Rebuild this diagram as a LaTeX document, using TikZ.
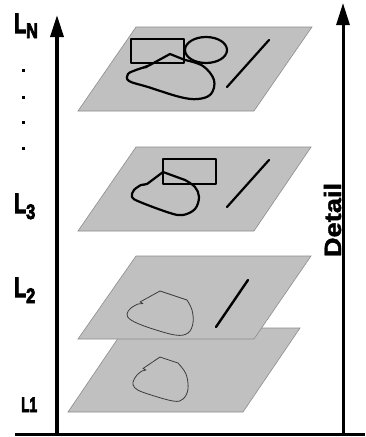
\documentclass[tikz,border=0pt]{standalone}
\usepackage{fontspec}
\setmainfont{Liberation Sans}
\newfontfamily\lblfont[FakeBold=4]{Liberation Sans Bold}
\newfontfamily\detfont[FakeBold=1.5]{Liberation Sans Bold}
\usetikzlibrary{arrows.meta}
\tikzset{
  plane/.style={fill={rgb,255:red,192;green,192;blue,192}, draw={rgb,255:red,140;green,140;blue,140}, line width=0.6pt},
  thick shape/.style={draw=black, line width=2.2pt, line join=round, line cap=round},
  thin shape/.style={draw={rgb,255:red,60;green,60;blue,60}, line width=0.8pt, line join=round},
  axis/.style={line width=3.4pt, -{Triangle[length=22pt 0 0, width=13pt 0]}},
  lbl/.style={inner sep=0pt, anchor=base west, font=\lblfont},
  dotmark/.style={fill=black, inner sep=0pt, minimum size=3pt, shape=rectangle}
}
\begin{document}
\begin{tikzpicture}[x=1pt,y=-1pt]
\useasboundingbox (0,0) rectangle (365,437);
% axes
\coordinate (bl) at (15,434);
\coordinate (br) at (365,434);
\coordinate (lb) at (57,434);
\coordinate (lt) at (57,15);
\coordinate (rb) at (343,434);
\coordinate (rt) at (343,3);
\draw[line width=3pt] (bl) -- (br);
\draw[axis] (lb) -- (lt);
\draw[axis, line width=3pt] (rb) -- (rt);
% plane 1
\draw[plane] (125,328) -- (300,328) -- (243,412) -- (68,412) -- cycle;
\draw[thin shape] (160,357) -- (178,363) -- plot[smooth, tension=0.6] coordinates {(178,363) (186,374) (188,389) (183,399) (173,401) (145,393) (135,388) (133,382) (137,375) (142,371)} -- (146,370) -- (143,368.5) -- cycle;
% plane 2
\draw[plane] (136,256) -- (311,256) -- (254,339) -- (78,339) -- cycle;
\draw[thin shape] (160,291) -- (187,300) -- plot[smooth, tension=0.6] coordinates {(187,300) (192,310) (193,323) (188,333) (175,335) (147,327) (131,320) (127,314) (131,308) (138,304)} -- (143,303.5) -- (140,302) -- cycle;
\draw[thick shape, line width=2.4pt] (216,327) -- (248,280);
% plane 3
\draw[plane] (136,147) -- (311,147) -- (254,231) -- (78,231) -- cycle;
\draw[thick shape] (163,159) rectangle (216,184);
\draw[thick shape] (163,172) -- (185,180) -- plot[smooth, tension=0.6] coordinates {(185,180) (195,187) (199,197) (195,209) (183,215) (170,213) (140,202) (132,197) (134,190) (141,185)} -- (147,184) -- cycle;
\fill (142,186) -- (149,182) -- (146,185) -- cycle;
\draw[thick shape] (227,207) -- (269,160);
% plane N
\draw[plane] (136,27) -- (312,27) -- (254,111) -- (78,111) -- cycle;
\draw[thick shape] (131,39) rectangle (184,63);
\draw[thick shape] (206,50) ellipse [x radius=21, y radius=13];
\draw[thick shape] (170,54) -- (185,60) -- plot[smooth, tension=0.6] coordinates {(185,60) (203,66) (214,80) (211,94) (198,99) (180,97) (148,87) (129,81) (128,74) (136,70) (142,68)} -- (149,65.5) -- cycle;
\fill (141,69) -- (150,64) -- (147,68) -- cycle;
\draw[thick shape] (227,87) -- (269,40);
% labels
\node[lbl] (ln) at (14,33) {\scalebox{0.7}[1]{\fontsize{28}{28}\selectfont L}\raisebox{-5pt}{\scalebox{0.78}[1]{\fontsize{21}{21}\selectfont N}}};
\node[lbl] (l3) at (14,213) {\scalebox{0.7}[1]{\fontsize{28}{28}\selectfont L}\raisebox{-6pt}{\scalebox{0.78}[1]{\fontsize{21}{21}\selectfont 3}}};
\node[lbl] (l2) at (14,297) {\scalebox{0.7}[1]{\fontsize{28}{28}\selectfont L}\raisebox{-6pt}{\scalebox{0.78}[1]{\fontsize{21}{21}\selectfont 2}}};
\node[lbl] (l1) at (21,412) {\scalebox{0.65}[1]{\fontsize{21}{21}\selectfont L1}};
\node[dotmark] (d1) at (23,70) {};
\node[dotmark] (d2) at (23,97) {};
\node[dotmark] (d3) at (23,122) {};
\node[dotmark] (d4) at (23,148) {};
\node[inner sep=0pt, anchor=base, rotate=90, font=\detfont] (detail) at (341,220) {\scalebox{1.15}[1]{\fontsize{23.7}{24}\selectfont Detail}};
\end{tikzpicture}
\end{document}
